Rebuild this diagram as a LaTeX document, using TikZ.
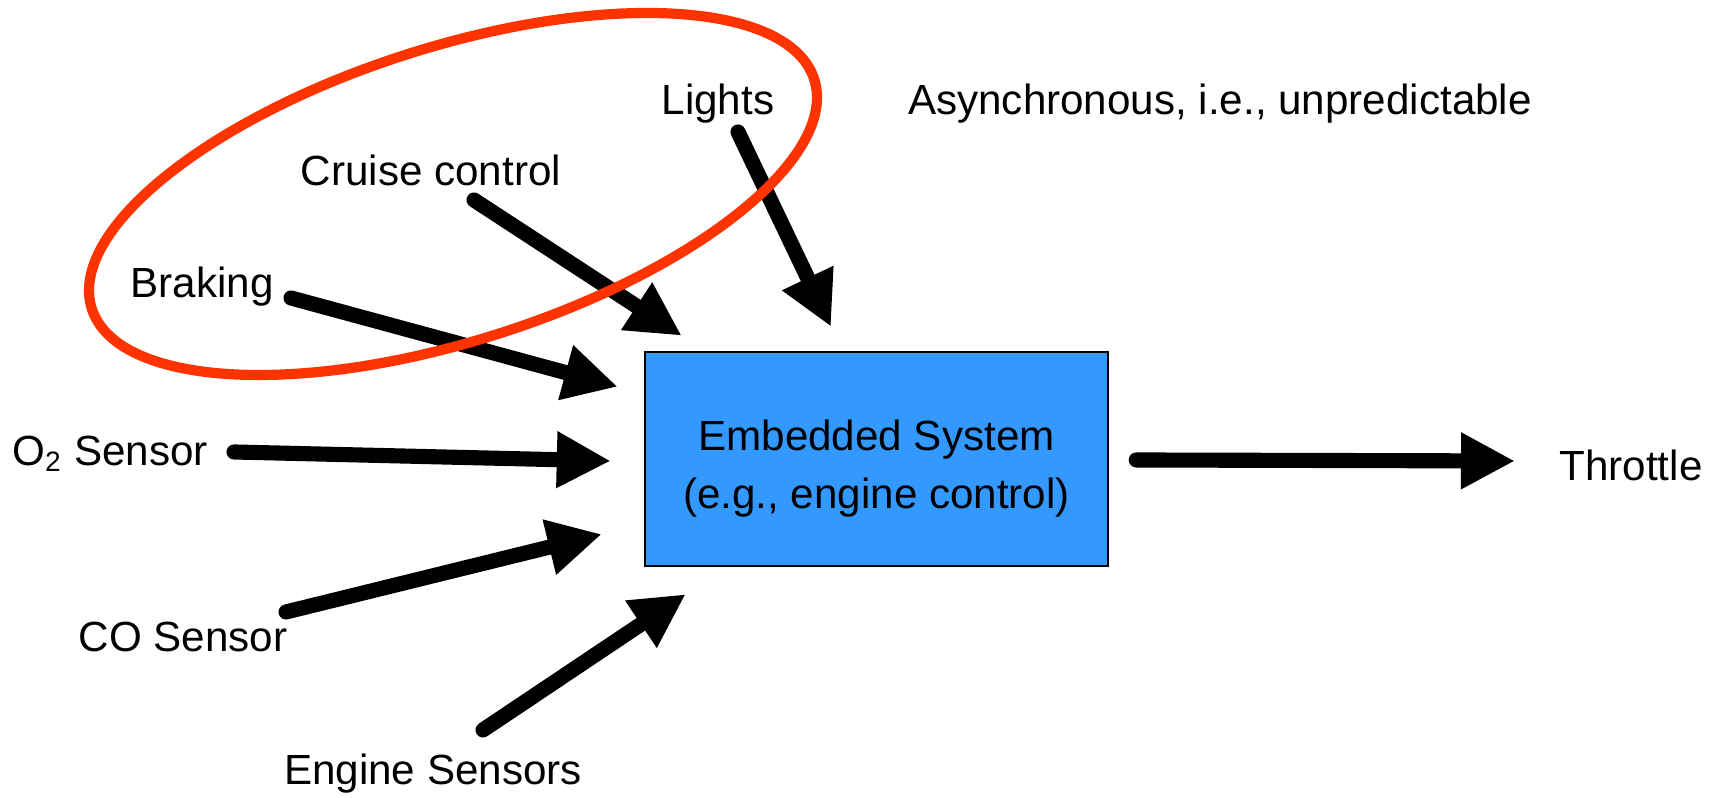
\documentclass[tikz,border=0pt]{standalone}
\usepackage{fontspec}
\setmainfont{Liberation Sans}
\usetikzlibrary{arrows.meta}
\definecolor{sysblue}{RGB}{51,153,255}
\definecolor{ringred}{RGB}{255,51,0}

\begin{document}
\begin{tikzpicture}[font=\fontsize{12}{16.5}\selectfont,
  flow/.style={line width=4.3pt, line cap=round, -{Triangle[length=5.4mm, width=5.3mm]}},
  lbl/.style={inner sep=0pt}]
  \useasboundingbox (0,0) rectangle (17.14,7.98);
  % the system block
  \node[draw, fill=sysblue, line width=0.7pt, minimum width=4.63cm, minimum height=2.14cm] (sys) at (8.765,3.39) {};
  \node[lbl, align=center] (systext) at (8.765,3.29) {Embedded System\\(e.g., engine control)};
  % inputs and output
  \node[lbl] (lights) at (7.18,6.94) {Lights};
  \node[lbl] (async) at (12.20,6.94) {Asynchronous, i.e., unpredictable};
  \node[lbl] (cruise) at (4.31,6.28) {Cruise control};
  \node[lbl] (braking) at (2.02,5.11) {Braking};
  \node[lbl] (otwo) at (1.10,3.44) {O\textsubscript{2} Sensor};
  \node[lbl] (co) at (1.83,1.61) {CO Sensor};
  \node[lbl] (engsens) at (4.33,0.24) {Engine Sensors};
  \node[lbl] (throttle) at (16.31,3.33) {Throttle};
  \draw[flow] ([shift={(0.20,-0.28)}]lights.center) -- ([shift={(-0.455,0.24)}]sys.north);
  \draw[flow] ([shift={(0.43,-0.30)}]cruise.center) -- ([shift={(0.38,0.15)}]sys.north west);
  \draw[flow] ([shift={(0.89,-0.11)}]braking.center) -- ([shift={(-0.26,-0.36)}]sys.north west);
  \draw[flow] ([shift={(1.24,0.02)}]otwo.center) -- ([shift={(-0.33,-0.02)}]sys.west);
  \draw[flow] ([shift={(1.03,0.25)}]co.center) -- ([shift={(-0.42,0.33)}]sys.south west);
  \draw[flow] ([shift={(0.50,0.44)}]engsens.center) -- ([shift={(0.42,-0.27)}]sys.south west);
  \draw[flow] ([shift={(0.27,-0.01)}]sys.east) -- ([shift={(-1.16,0.04)}]throttle.center);
  % ring round the asynchronous inputs
  \draw[ringred, line width=2.9pt] (4.53,6.04) ellipse [x radius=3.79, y radius=1.47, rotate=17.6];
\end{tikzpicture}
\end{document}
